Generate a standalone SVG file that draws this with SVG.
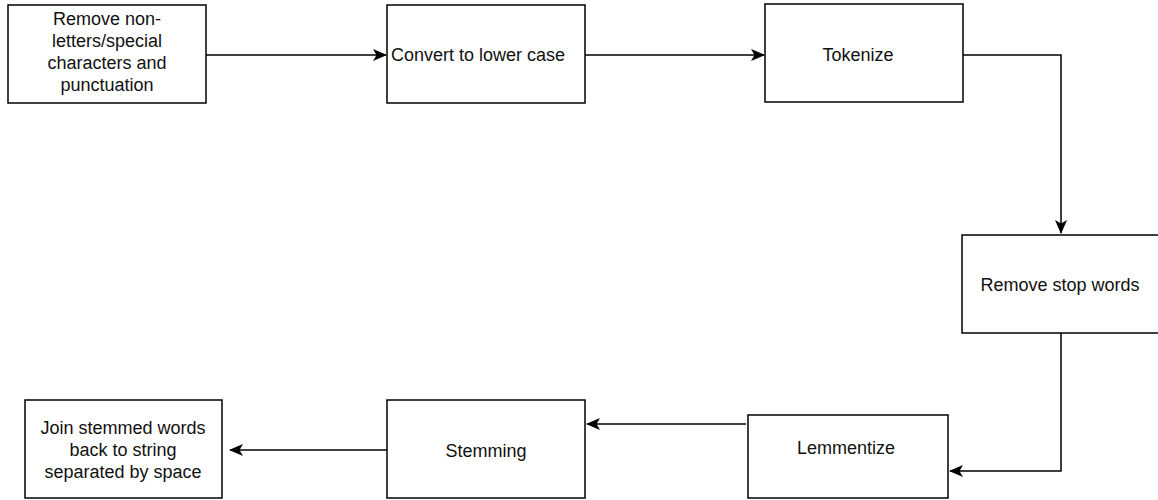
<svg xmlns="http://www.w3.org/2000/svg" width="1158" height="500" viewBox="0 0 1158 500">
<style>
.box{fill:#fff;stroke:#000;stroke-width:1.5}
.lbl{font-family:"Liberation Sans",Arial,sans-serif;font-size:18px;fill:#111;text-anchor:middle}
.edge{fill:none;stroke:#000;stroke-width:1.5}
</style>
<defs>
<marker id="arr" viewBox="0 0 14 12" refX="13" refY="6" markerWidth="14" markerHeight="12" markerUnits="userSpaceOnUse" orient="auto">
<path d="M0,0 L14,6 L0,12 L3.5,6 Z" fill="#000"/>
</marker>
</defs>
<rect width="1158" height="500" fill="#fff"/>
<g id="connectors">
<path class="edge" d="M206,55 L386,55" marker-end="url(#arr)"/>
<path class="edge" d="M585,55 L764,55" marker-end="url(#arr)"/>
<path class="edge" d="M963,55 L1061,55 L1061,233" marker-end="url(#arr)"/>
<path class="edge" d="M1061,333 L1061,471 L950,471" marker-end="url(#arr)"/>
<path class="edge" d="M746,424 L587,424" marker-end="url(#arr)"/>
<path class="edge" d="M387,450 L230,450" marker-end="url(#arr)"/>
</g>
<g id="n1"><rect class="box" x="8" y="5" width="198" height="98"/>
<text class="lbl" x="107" y="25">Remove non-</text>
<text class="lbl" x="107" y="47">letters/special</text>
<text class="lbl" x="107" y="69">characters and</text>
<text class="lbl" x="107" y="91">punctuation</text></g>
<g id="n2"><rect class="box" x="387" y="5" width="198" height="98"/>
<text class="lbl" x="478" y="61">Convert to lower case</text></g>
<g id="n3"><rect class="box" x="765" y="4" width="198" height="98"/>
<text class="lbl" x="858" y="61">Tokenize</text></g>
<g id="n4"><rect class="box" x="962" y="235" width="200" height="98"/>
<text class="lbl" x="1060" y="291">Remove stop words</text></g>
<g id="n5"><rect class="box" x="748" y="415" width="200" height="83"/>
<text class="lbl" x="846" y="454">Lemmentize</text></g>
<g id="n6"><rect class="box" x="387" y="400" width="198" height="98"/>
<text class="lbl" x="486" y="457">Stemming</text></g>
<g id="n7"><rect class="box" x="25" y="400" width="197" height="98"/>
<text class="lbl" x="123" y="434">Join stemmed words</text>
<text class="lbl" x="123" y="456">back to string</text>
<text class="lbl" x="123" y="478">separated by space</text></g>
</svg>
